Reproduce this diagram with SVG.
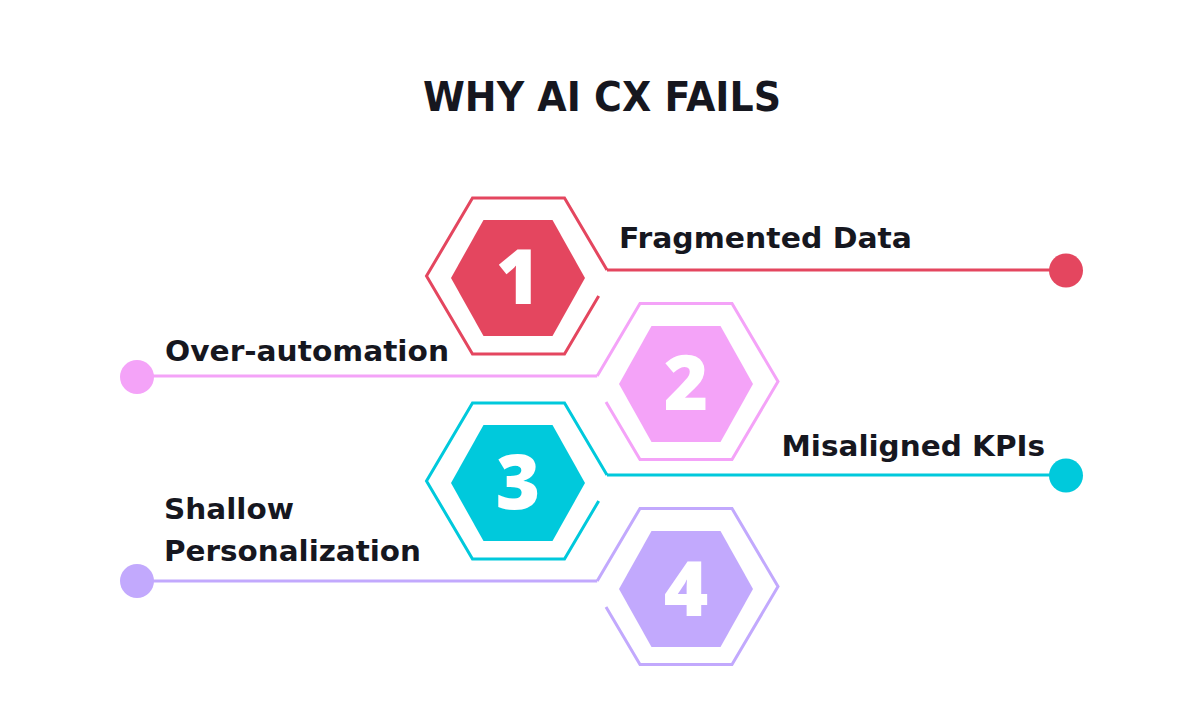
<svg xmlns="http://www.w3.org/2000/svg" width="1204" height="728" viewBox="0 0 1204 728">
<style>
.bg{fill:#ffffff}
.title{font-family:"DejaVu Sans","Liberation Sans",sans-serif;font-weight:700;font-size:40px;fill:#16171f}
.lbl{font-family:"DejaVu Sans","Liberation Sans",sans-serif;font-weight:700;font-size:29px;fill:#16171f}
.num{font-family:"Open Sans","DejaVu Sans",sans-serif;font-weight:800;font-size:76px;fill:#ffffff;text-anchor:middle}
.outer{fill:none;stroke-width:3;stroke-linejoin:miter}
.conn{fill:none;stroke-width:3}
.red{stroke:#e4465f}.redf{fill:#e4465f}
.pink{stroke:#f4a3f8}.pinkf{fill:#f4a3f8}
.cyan{stroke:#00c9dc}.cyanf{fill:#00c9dc}
.lav{stroke:#c2a9fd}.lavf{fill:#c2a9fd}
</style>
<rect class="bg" x="0" y="0" width="1204" height="728"/>
<text class="title" x="423" y="111" textLength="358" lengthAdjust="spacingAndGlyphs">WHY AI CX FAILS</text>

<g id="connectors">
  <path class="conn red" d="M607 270 H1066"/>
  <circle class="redf" cx="1066" cy="270.5" r="17"/>
  <path class="conn pink" d="M597.2 376 H137"/>
  <circle class="pinkf" cx="137" cy="377" r="17"/>
  <path class="conn cyan" d="M607 475 H1066"/>
  <circle class="cyanf" cx="1066" cy="475.5" r="17"/>
  <path class="conn lav" d="M597.2 581 H137"/>
  <circle class="lavf" cx="137" cy="581" r="17"/>
</g>

<g id="node1">
  <path class="outer red" d="M607 270 L564.5 198 L472.5 198 L426.5 276 L472.5 354 L564.5 354 L598.7 296"/>
  <polygon class="redf" points="585,278 552.5,220 483.5,220 451,278 483.5,336 552.5,336"/>
  <text class="num" x="518" y="304">1</text>
  <text class="lbl" x="619" y="248" textLength="293" lengthAdjust="spacingAndGlyphs">Fragmented Data</text>
</g>

<g id="node2">
  <path class="outer pink" d="M597.2 376 L640 303.5 L732 303.5 L778 381.5 L732 459.5 L640 459.5 L606 402"/>
  <polygon class="pinkf" points="753,384 720.5,326 651.5,326 619,384 651.5,442 720.5,442"/>
  <text class="num" x="686" y="410">2</text>
  <text class="lbl" x="165" y="361" textLength="284" lengthAdjust="spacingAndGlyphs">Over-automation</text>
</g>

<g id="node3">
  <path class="outer cyan" d="M607 475 L564.5 403 L472.5 403 L426.5 481 L472.5 559 L564.5 559 L598.7 501"/>
  <polygon class="cyanf" points="585,483 552.5,425 483.5,425 451,483 483.5,541 552.5,541"/>
  <text class="num" x="518" y="509">3</text>
  <text class="lbl" x="781.5" y="456" textLength="263.5" lengthAdjust="spacingAndGlyphs">Misaligned KPIs</text>
</g>

<g id="node4">
  <path class="outer lav" d="M597.2 581 L640 508.5 L732 508.5 L778 586.5 L732 664.5 L640 664.5 L606 607"/>
  <polygon class="lavf" points="753,589 720.5,531 651.5,531 619,589 651.5,647 720.5,647"/>
  <text class="num" x="686" y="616">4</text>
  <text class="lbl" x="164" y="519" textLength="130" lengthAdjust="spacingAndGlyphs">Shallow</text>
  <text class="lbl" x="164" y="560.5" textLength="257" lengthAdjust="spacingAndGlyphs">Personalization</text>
</g>
</svg>
